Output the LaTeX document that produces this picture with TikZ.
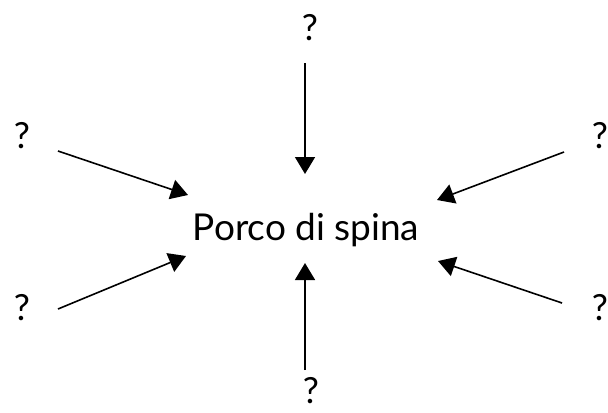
\documentclass[tikz,border=0pt]{standalone}
\usepackage{fontspec}
\setmainfont{Lato}
\usetikzlibrary{arrows.meta}

\begin{document}
\begin{tikzpicture}[x=0.5pt,y=-0.5pt, qnode/.style={anchor=base,inner sep=0pt,font=\fontsize{18}{20}\selectfont}, arr/.style={-{Triangle[length=8.5pt,width=10pt]},line width=0.8pt}]
            \useasboundingbox (0,0) rectangle (608,412);
            \node[qnode,font=\fontsize{18.5}{22}\selectfont] (hub) at (306,240) {Porco di spina};

            \node[qnode] (qt) at (310,40) {?};
            \node[qnode] (qlt) at (22,148) {?};
            \node[qnode] (qrt) at (600,148) {?};
            \node[qnode] (qlb) at (22,320) {?};
            \node[qnode] (qrb) at (600,320) {?};
            \node[qnode] (qb) at (311,403) {?};

            \coordinate (t0) at (305,63);   \coordinate (t1) at (305,174);
            \coordinate (lt0) at (58,151);  \coordinate (lt1) at (188,195);
            \coordinate (rt0) at (564,152); \coordinate (rt1) at (437,200);
            \coordinate (lb0) at (58,309);  \coordinate (lb1) at (186,256);
            \coordinate (rb0) at (562,303); \coordinate (rb1) at (438,261);
            \coordinate (b0) at (305,370);  \coordinate (b1) at (305,263);

            \draw[arr] (t0)--(t1);
            \draw[arr] (lt0)--(lt1);
            \draw[arr] (rt0)--(rt1);
            \draw[arr] (lb0)--(lb1);
            \draw[arr] (rb0)--(rb1);
            \draw[arr] (b0)--(b1);
\end{tikzpicture}
\end{document}
